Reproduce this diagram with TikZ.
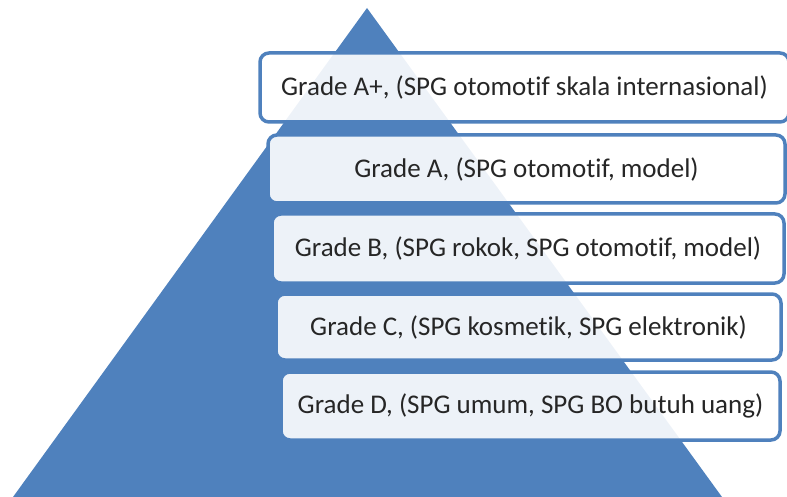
\documentclass[tikz,border=0pt]{standalone}
\usepackage{fontspec}
\setmainfont{Carlito}[Ligatures=NoCommon]
\usepackage{color}
\definecolor{pyrblue}{HTML}{4F81BD}

\begin{document}
\begin{tikzpicture}[x=1pt,y=-1pt]
	\tikzset{grade/.style={draw=pyrblue,line width=3.5pt,rounded corners=9pt,fill=white,fill opacity=.9,text opacity=1,text=black!85,font=\fontsize{27}{32}\selectfont,inner sep=0pt}}
	\useasboundingbox (0,0) rectangle (787,497);
	\fill[pyrblue] (367,8) -- (722,497) -- (13,497) -- cycle;
	\node[grade,minimum width=529pt,minimum height=69pt] (gradeAplus) at (524.5,87.5) {Grade A+, (SPG otomotif skala internasional)};
	\node[grade,minimum width=517pt,minimum height=68pt] (gradeA) at (526.5,169) {Grade A, (SPG otomotif, model)};
	\node[grade,minimum width=512pt,minimum height=69pt] (gradeB) at (528,248.5) {Grade B, (SPG rokok, SPG otomotif, model)};
	\node[grade,minimum width=505pt,minimum height=66pt] (gradeC) at (528.5,327) {Grade C, (SPG kosmetik, SPG elektronik)};
	\node[grade,minimum width=499pt,minimum height=68pt] (gradeD) at (530.5,406) {Grade D, (SPG umum, SPG BO butuh uang)};
\end{tikzpicture}
\end{document}
